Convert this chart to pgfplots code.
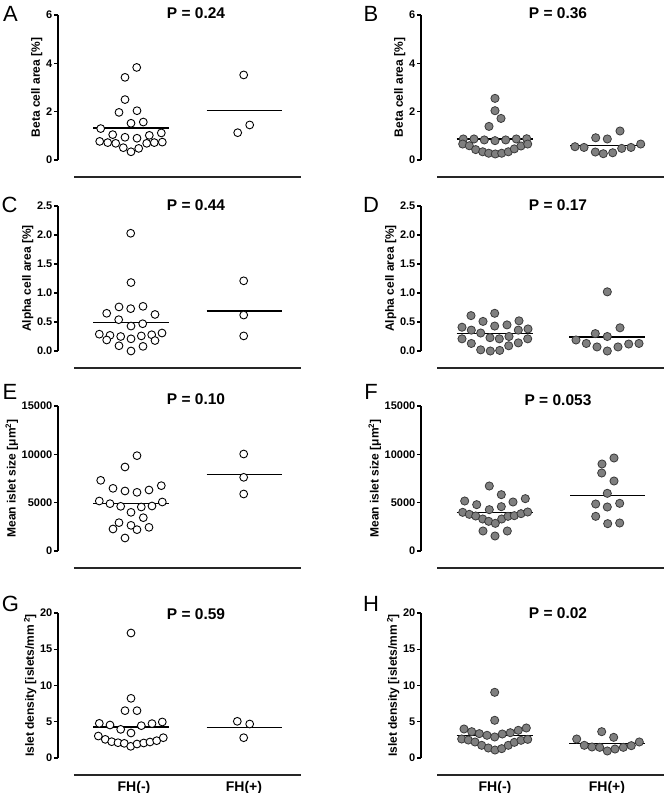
\documentclass[border=0pt]{standalone}
\usepackage{fontspec}
\setmainfont{Liberation Sans}
\usepackage{pgfplots}
\pgfplotsset{compat=1.18}
\definecolor{dotfill}{HTML}{7F7F7F}
\definecolor{dotedge}{HTML}{3A3A3A}

\pgfplotsset{
  panel/.style={
    scale only axis, width=243pt, height=145pt,
    xmin=0, xmax=243, ymin=0,
    axis lines*=left,
    axis line style={line width=1.2pt, -},
    x axis line style={draw=none},
    xtick=\empty,
    ytick pos=left,
    tick align=outside, major tick length=4pt,
    ytick style={line width=1.2pt, black},
    xtick style={draw=none},
    clip=false,
    /pgf/number format/assume math mode=true,
    /pgf/number format/1000 sep={},
    yticklabel style={font=\bfseries\fontsize{11}{13}\selectfont, inner sep=1.5pt},
    ylabel style={font=\bfseries\fontsize{12}{14}\selectfont, inner sep=2pt},
    xticklabel style={font=\bfseries\fontsize{14}{16}\selectfont, anchor=center, yshift=-26pt},
  },
  open/.style={only marks, mark=*, mark size=3.9pt,
    mark options={fill=white, draw=black, line width=0.9pt}},
  full/.style={only marks, mark=*, mark size=4.1pt,
    mark options={fill=dotfill, draw=dotedge, line width=0.8pt}},
  med/.style={no marks, black, line width=1.5pt},
}
\newcommand\baseline{\draw[line width=1.3pt, black!85] ([yshift=-17pt]axis cs:16,0) -- ([yshift=-17pt]axis cs:243,0);}
\newcommand\ptitle{\bfseries\fontsize{15.5}{18}\selectfont}
\newcommand\pletter{\fontsize{22}{26}\selectfont}

\begin{document}
\begin{tikzpicture}
\useasboundingbox (0,0) rectangle (665pt,793pt);

% A
\begin{axis}[panel, at={(58pt,633pt)}, anchor=south west,
  ymax=6, ytick={0,2,4,6}, ylabel={Beta cell area [\%]}]
\addplot[open] coordinates {(78.7,3.83) (67,3.42) (67,2.50) (61,1.97) (79,2.04) (73,1.52) (85.3,1.57) (42.7,1.30) (54.7,1.05) (67,0.94) (79,0.90) (91.3,1.02) (103.3,1.12) (41.7,0.77) (49.7,0.72) (57.7,0.69) (88.7,0.69) (96.3,0.72) (104.3,0.74) (65.3,0.51) (73,0.34) (80.7,0.48)};
\addplot[open] coordinates {(185.7,3.52) (191.7,1.45) (179.7,1.13)};
\addplot[med] coordinates {(35.3,1.32) (111.3,1.32)};
\addplot[med] coordinates {(148.7,2.04) (223.7,2.04)};
\baseline
\end{axis}

% B
\begin{axis}[panel, at={(421pt,633pt)}, anchor=south west,
  ymax=6, ytick={0,2,4,6}, ylabel={Beta cell area [\%]}]
\addplot[full] coordinates {(74,2.55) (74,2.04) (80,1.72) (68,1.39) (42.3,0.87) (53,0.87) (63.3,0.83) (74,0.80) (84.7,0.83) (95.3,0.87) (105.7,0.88) (41.7,0.66) (48.3,0.59) (54.7,0.43) (61.7,0.34) (67.7,0.28) (74.3,0.25) (80.7,0.28) (87.3,0.34) (93.3,0.46) (100,0.58) (106.7,0.66)};
\addplot[full] coordinates {(199,1.20) (174.7,0.92) (186.3,0.87) (154,0.55) (163,0.52) (174.3,0.33) (182.3,0.26) (191.7,0.30) (200.7,0.48) (210,0.52) (219.7,0.66)};
\addplot[med] coordinates {(35.7,0.86) (112.3,0.86)};
\addplot[med] coordinates {(149,0.61) (224,0.61)};
\baseline
\end{axis}

% C
\begin{axis}[panel, at={(58pt,442pt)}, anchor=south west,
  ymax=2.5, ytick={0,0.5,1,1.5,2,2.5},
  yticklabel style={/pgf/number format/.cd, fixed, fixed zerofill, precision=1},
  ylabel={Alpha cell area [\%]}]
\addplot[open] coordinates {(72.7,2.03) (73,1.18) (61,0.76) (72.7,0.73) (85,0.77) (48.7,0.65) (97,0.63) (60.7,0.54) (84.7,0.47) (73,0.43) (41.3,0.29) (52,0.27) (62.7,0.25) (83.3,0.26) (93.7,0.28) (104,0.31) (48.7,0.19) (73,0.21) (97,0.18) (61,0.09) (85,0.08) (73,0.00)};
\addplot[open] coordinates {(185.7,1.21) (185.7,0.62) (185.7,0.26)};
\addplot[med] coordinates {(35.3,0.49) (110.7,0.49)};
\addplot[med] coordinates {(148.7,0.69) (223.7,0.69)};
\baseline
\end{axis}

% D
\begin{axis}[panel, at={(421pt,442pt)}, anchor=south west,
  ymax=2.5, ytick={0,0.5,1,1.5,2,2.5},
  yticklabel style={/pgf/number format/.cd, fixed, fixed zerofill, precision=1},
  ylabel={Alpha cell area [\%]}]
\addplot[full] coordinates {(50,0.61) (73.7,0.65) (62,0.51) (98,0.52) (41,0.41) (50.3,0.36) (73.7,0.43) (86,0.45) (97.3,0.36) (107,0.38) (59.7,0.31) (69,0.23) (78.3,0.21) (88,0.25) (41,0.21) (106.7,0.21) (50.3,0.13) (97.3,0.14) (87.7,0.09) (59.7,0.02) (69.3,0.00) (78.7,0.01)};
\addplot[full] coordinates {(186.3,1.02) (199,0.40) (174.3,0.30) (186.3,0.25) (155,0.19) (165.3,0.13) (176,0.07) (186.3,0.00) (197,0.07) (207.7,0.12) (218,0.13)};
\addplot[med] coordinates {(35.7,0.30) (112.3,0.30)};
\addplot[med] coordinates {(148.3,0.24) (224.3,0.24)};
\baseline
\end{axis}

% E
\begin{axis}[panel, at={(58pt,242pt)}, anchor=south west,
  ymax=15000, ytick={0,5000,10000,15000}, scaled y ticks=false,
  ylabel={Mean islet size [μm\textsuperscript{2}]}]
\addplot[open] coordinates {(79,9862) (67,8690) (42.7,7310) (103.3,6759) (55,6483) (67,6207) (79,6069) (91,6310) (41.3,5172) (104.3,5069) (52,4896) (62.7,4621) (83.3,4552) (94,4655) (73,4000) (85.3,3448) (61,2931) (73,2655) (55,2276) (79,2207) (91,2448) (67,1345)};
\addplot[open] coordinates {(185.7,10034) (185.7,7621) (185.7,5897)};
\addplot[med] coordinates {(35.3,4897) (111.3,4897)};
\addplot[med] coordinates {(148.7,7897) (224.3,7897)};
\baseline
\end{axis}

% F
\begin{axis}[panel, at={(421pt,242pt)}, anchor=south west,
  ymax=15000, ytick={0,5000,10000,15000}, scaled y ticks=false,
  ylabel={Mean islet size [μm\textsuperscript{2}]}]
\addplot[full] coordinates {(68.3,6724) (80.3,5828) (43.7,5172) (104.3,5414) (55.7,4793) (92,5069) (80.3,4586) (68.3,4276) (41.7,4000) (48.3,3793) (54.7,3621) (61.7,3310) (67.7,3069) (74.3,2862) (80.7,3310) (87,3586) (93.3,3655) (100,3862) (106.7,4034) (62,2069) (86.3,2069) (74,1552)};
\addplot[full] coordinates {(193,9621) (181,9000) (180.7,8069) (193,7241) (186.3,5966) (174.7,4862) (198.7,4931) (186.3,4552) (174.7,3586) (186.7,2828) (198.7,2897)};
\addplot[med] coordinates {(35.7,3966) (112.3,3966)};
\addplot[med] coordinates {(149,5759) (224.3,5759)};
\baseline
\end{axis}

% G
\begin{axis}[panel, at={(58pt,35pt)}, anchor=south west,
  ymax=20, ytick={0,5,10,15,20},
  ylabel={Islet density [islets/mm\,\textsuperscript{2}]},
  xtick={76,186}, xticklabels={FH(-),FH(+)}]
\addplot[open] coordinates {(73,17.24) (73,8.23) (67,6.53) (79,6.53) (41.3,4.78) (52,4.55) (62.7,3.95) (83.3,4.46) (94,4.74) (104.3,4.97) (73,3.45) (40.3,3.03) (47.3,2.57) (53.7,2.25) (60,2.11) (66.3,2.02) (72.7,1.61) (79,1.93) (85.7,2.07) (92,2.21) (98.7,2.39) (105.3,2.80)};
\addplot[open] coordinates {(179.3,5.06) (191.7,4.69) (185.7,2.80)};
\addplot[med] coordinates {(35.3,4.28) (111.3,4.28)};
\addplot[med] coordinates {(148.7,4.18) (223.7,4.18)};
\baseline
\end{axis}

% H
\begin{axis}[panel, at={(421pt,35pt)}, anchor=south west,
  ymax=20, ytick={0,5,10,15,20},
  ylabel={Islet density [islets/mm\,\textsuperscript{2}]},
  xtick={74,186}, xticklabels={FH(-),FH(+)}]
\addplot[full] coordinates {(73.7,9.06) (73.7,5.20) (43,4.00) (50.7,3.63) (58.3,3.36) (66,3.13) (73.7,2.90) (81.3,3.31) (89.3,3.49) (97.3,3.82) (105.3,4.14) (40.7,2.62) (47.3,2.48) (54,2.21) (60.7,1.75) (67.3,1.38) (74,1.10) (80.7,1.29) (87.3,1.75) (93.3,2.16) (100,2.44) (106.7,2.57)};
\addplot[full] coordinates {(180.7,3.63) (192.7,2.85) (155.7,2.62) (163.3,1.75) (171,1.52) (178.7,1.47) (186.3,0.97) (194,1.24) (202.3,1.47) (210.3,1.70) (218.3,2.21)};
\addplot[med] coordinates {(35.7,3.08) (112.3,3.08)};
\addplot[med] coordinates {(148.3,1.98) (224.3,1.98)};
\baseline
\end{axis}

% titles and panel letters
\node[font=\ptitle] at (196pt,780pt) {P = 0.24};
\node[font=\ptitle] at (558pt,780pt) {P = 0.36};
\node[font=\ptitle] at (196pt,587.5pt) {P = 0.44};
\node[font=\ptitle] at (558pt,587.5pt) {P = 0.17};
\node[font=\ptitle] at (196pt,394pt) {P = 0.10};
\node[font=\ptitle] at (558pt,393pt) {P = 0.053};
\node[font=\ptitle] at (196pt,179pt) {P = 0.59};
\node[font=\ptitle] at (558pt,180pt) {P = 0.02};
\node[font=\pletter] at (10.5pt,779pt) {A};
\node[font=\pletter] at (371pt,779pt) {B};
\node[font=\pletter] at (9.5pt,588pt) {C};
\node[font=\pletter] at (371pt,588pt) {D};
\node[font=\pletter] at (10pt,401.5pt) {E};
\node[font=\pletter] at (371pt,401.5pt) {F};
\node[font=\pletter] at (10.5pt,189.5pt) {G};
\node[font=\pletter] at (371pt,189.5pt) {H};
\end{tikzpicture}
\end{document}
